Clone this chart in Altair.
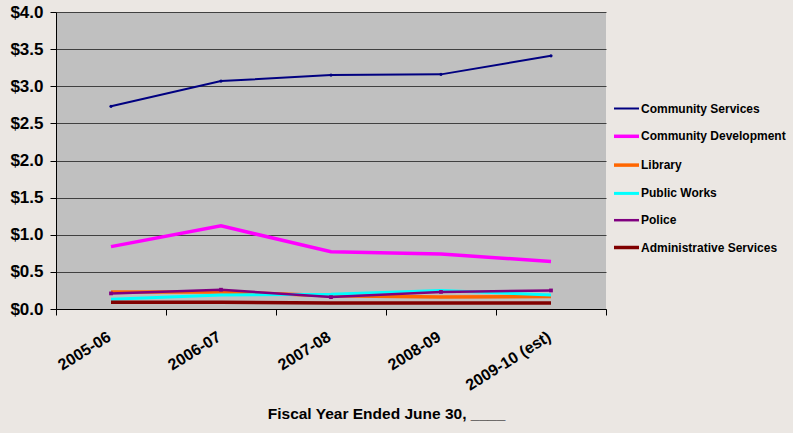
import altair as alt
import pandas as pd

# Fiscal years on the category axis
years = ["2005-06", "2006-07", "2007-08", "2008-09", "2009-10 (est)"]

# Department names, in legend order
departments = [
    "Community Services",
    "Community Development",
    "Library",
    "Public Works",
    "Police",
    "Administrative Services",
]

# Cost per year for each department ($)
community_services = [2.73, 3.07, 3.15, 3.16, 3.41]
community_development = [0.84, 1.12, 0.77, 0.74, 0.64]
library = [0.23, 0.23, 0.18, 0.16, 0.17]
public_works = [0.13, 0.19, 0.20, 0.25, 0.19]
police = [0.21, 0.26, 0.16, 0.23, 0.25]
administrative_services = [0.09, 0.09, 0.08, 0.08, 0.08]

line_colors = ["#000080", "#FF00FF", "#FF6600", "#00FFFF", "#800080", "#800000"]
line_widths = [2, 3.5, 3.5, 3, 2.5, 3.5]

series_values = [
    community_services,
    community_development,
    library,
    public_works,
    police,
    administrative_services,
]

rows = []
for name, vals in zip(departments, series_values):
    for yr, v in zip(years, vals):
        rows.append({"year": yr, "department": name, "value": v})
df = pd.DataFrame(rows)

FONT = "Liberation Sans"

x_enc = alt.X(
    "year:N",
    sort=years,
    scale=alt.Scale(type="band", paddingInner=0, paddingOuter=0),
    axis=alt.Axis(
        title="Fiscal Year Ended June 30, ____",
        titleFontSize=15.5,
        titleFont=FONT,
        titleFontWeight="bold",
        titleColor="#000000",
        titleX=330,
        titleY=109,
        titleAlign="center",
        titleBaseline="alphabetic",
        labelAngle=-32,
        labelAlign="right",
        labelBaseline="middle",
        labelFontSize=16,
        labelFont=FONT,
        labelFontWeight="bold",
        labelColor="#000000",
        labelPadding=20,
        labelOffset=-2,
        tickBand="extent",
        tickSize=6,
        tickColor="#000000",
        domainColor="#000000",
        grid=False,
    ),
)

y_enc = alt.Y(
    "value:Q",
    scale=alt.Scale(domain=[0, 4], nice=False),
    axis=alt.Axis(
        title=None,
        values=[0, 0.5, 1, 1.5, 2, 2.5, 3, 3.5, 4],
        format="$.1f",
        labelFontSize=17,
        labelFont=FONT,
        labelFontWeight="bold",
        labelColor="#000000",
        labelPadding=7,
        tickSize=6,
        tickColor="#000000",
        domainColor="#000000",
        grid=True,
        gridColor="#404040",
        gridWidth=1,
    ),
)

legend_style = dict(
    orient="none",
    legendX=556,
    legendY=83,
    padding=0,
    symbolType="stroke",
    symbolSize=625,
    labelFontSize=12,
    labelFont=FONT,
    labelFontWeight="bold",
    labelColor="#000000",
    labelOffset=0,
    rowPadding=6.8,
    labelLimit=300,
)

lines = alt.Chart(df).mark_line(strokeCap="butt", strokeJoin="miter").encode(
    x=x_enc,
    y=y_enc,
    color=alt.Color(
        "department:N",
        sort=departments,
        scale=alt.Scale(domain=departments, range=line_colors),
        title=None,
        legend=alt.Legend(**legend_style),
    ),
    strokeWidth=alt.StrokeWidth(
        "department:N",
        sort=departments,
        scale=alt.Scale(type="ordinal", domain=departments, range=line_widths),
        title=None,
        legend=alt.Legend(**legend_style),
    ),
)

# Small data markers on the Police and Community Services lines
police_pts = alt.Chart(df).transform_filter(
    alt.datum.department == "Police"
).mark_square(size=14, opacity=1, color="#800080").encode(x=x_enc, y=y_enc)

cs_pts = alt.Chart(df).transform_filter(
    alt.datum.department == "Community Services"
).mark_circle(size=10, opacity=1, color="#000080").encode(x=x_enc, y=y_enc)

chart = (
    alt.layer(lines, police_pts, cs_pts)
    .properties(
        width=550,
        height=297,
        background="#EBE7E3",
        padding={"left": 56, "top": 12, "right": 187, "bottom": 124},
        autosize=alt.AutoSizeParams(type="none"),
    )
    .configure_view(fill="#C0C0C0", stroke=None)
)

chart.save("out.html", embed_options={"renderer": "svg", "actions": False})
